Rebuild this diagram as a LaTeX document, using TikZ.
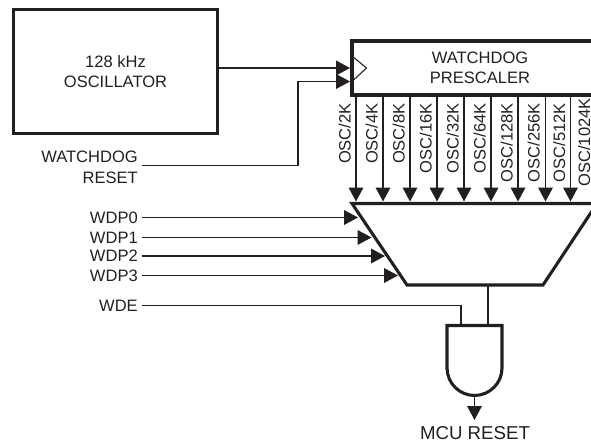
\documentclass[tikz,border=0pt]{standalone}
\usepackage{fontspec}
\setmainfont{Liberation Sans}
\usetikzlibrary{arrows.meta}
\definecolor{ink}{HTML}{231F20}
\tikzset{
  wire/.style={draw=ink, line width=1.1pt},
  arrowwire/.style={wire, -{Triangle[length=10.5pt,width=11pt]}},
  thickbox/.style={draw=ink, line width=2.3pt, line join=miter},
  blockbox/.style={thickbox, rectangle, align=center, text=ink, font=\fontsize{12.4}{15}\selectfont},
  label/.style={inner sep=0pt, text=ink, font=\fontsize{12.4}{15}\selectfont},
  osclabel/.style={label, rotate=90, anchor=mid east}
}
\begin{document}
\begin{tikzpicture}[x=.75pt, y=.75pt]
        \clip (0,0) rectangle (591,444);

        \node[blockbox, minimum width=152.5pt, minimum height=93.5pt] (OSC) at (115.5,372.5) {128 kHz\\OSCILLATOR};
        \node[blockbox, minimum width=192pt, minimum height=40.5pt] (PRE) at (480,376) {WATCHDOG\\PRESCALER};

        % clock input
        \coordinate (CK1) at (352,376);
        \coordinate (CKT) at (352,388);
        \coordinate (CKB) at (352,362.5);
        \coordinate (CKP) at (366.5,376);
        \draw[draw=ink, line width=.8pt] (CKT) -- (CKP) -- (CKB);

        \node[label, anchor=east] (RST1) at (138,287) {WATCHDOG};
        \node[label, anchor=east] (RST2) at (138,266) {RESET};
        \node[label, anchor=east] (P0) at (138,226.5) {WDP0};
        \node[label, anchor=east] (P1) at (138,206.5) {WDP1};
        \node[label, anchor=east] (P2) at (138,188) {WDP2};
        \node[label, anchor=east] (P3) at (138,168.5) {WDP3};
        \node[label, anchor=east] (E) at (138,138.5) {WDE};
        \node[label, font=\fontsize{14}{15}\selectfont] (OUT) at (475,11) {MCU RESET};

        % mux
        \coordinate (M1) at (352,240.5);
        \coordinate (M2) at (407,159);
        \coordinate (M3) at (543,159);
        \coordinate (M4) at (597,240.5);
        \draw[thickbox] (M1) -- (M2) -- (M3) -- (M4) -- cycle;

        % and gate
        \coordinate (G1) at (447,118.5);
        \coordinate (G2) at (502,118.5);
        \draw[thickbox] (447,76) -- (G1) -- (G2) -- (502,76) arc[start angle=0, end angle=-180, radius=20.6pt] -- cycle;
        \coordinate (GO) at (474.5,50);

        \draw[arrowwire] (OSC.east |- CK1) -- (350,376);
        \draw[arrowwire] (142,278.5) -| (298,362.5) -- (350,362.5);

        \foreach \n/\x/\lx/\t in {1/356/347/2K, 2/383/374/4K, 3/410/401/8K, 4/437/428/16K, 5/464/455/32K,
          6/491/482/64K, 7/518/509/128K, 8/545.5/536/256K, 9/570.5/561.5/512K}
        {
          \draw[arrowwire] (\x,349) -- (\x,242.5);
          \node[osclabel] (L\n) at (\lx,341) {OSC/\t};
        }
        \node[osclabel] (L10) at (586.5,346) {OSC/1024K};

        \draw[arrowwire] (142,226.5) -- (358,226.5);
        \draw[arrowwire] (142,206.5) -- (371.5,206.5);
        \draw[arrowwire] (142,188) -- (385,188);
        \draw[arrowwire] (142,168.5) -- (398,168.5);

        \draw[wire] (142,138.5) -| (461,118.5);
        \draw[wire] (488,159) -- (488,118.5);
        \draw[arrowwire] (GO) -- (474.5,24);
      \end{tikzpicture}
\end{document}
